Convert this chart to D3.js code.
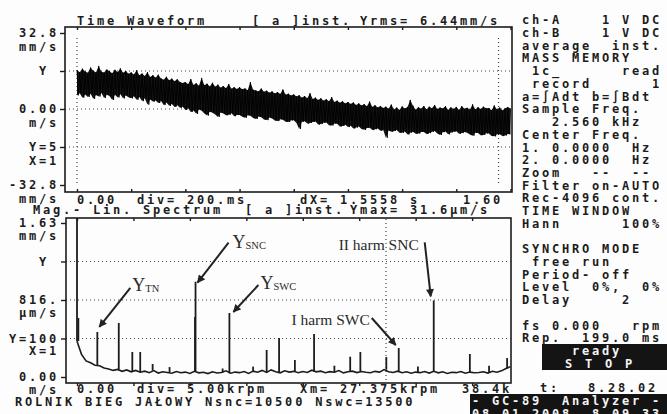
<!DOCTYPE html>
<html>
<head>
<meta charset="utf-8">
<script src="https://cdn.jsdelivr.net/npm/d3@7"></script>
<style>
body { margin: 0; background: #fdfdfd; }
</style>
</head>
<body>
<div id="chart"></div>
<script>
// time waveform, upper / lower envelope in mm/s, one value every 0.01 s (0 .. 1.60 s)
var waveStep = 0.01
var waveHi = [
    16.8, 15.9, 17.4, 16.2, 15.6, 17.9, 16.5, 15.8, 18.6, 16.1, 15.7, 17.0, 16.3, 15.4, 16.9, 15.9, 17.5, 15.6, 16.4, 15.2,
    15.8, 14.9, 16.7, 14.6, 15.3, 14.2, 15.9, 13.8, 14.6, 13.5, 14.8, 13.2, 12.6, 13.9, 12.4, 13.1, 12.0, 12.8, 11.6, 11.2,
    11.6, 10.7, 12.9, 10.4, 11.1, 10.0, 13.4, 10.3, 10.9, 9.7, 11.3, 9.6, 10.5, 9.2, 9.9, 9.0, 10.8, 8.7, 9.4, 8.6,
    9.4, 8.5, 8.9, 8.1, 11.6, 8.3, 8.0, 7.6, 8.8, 7.4, 7.9, 7.0, 7.6, 6.7, 7.3, 6.5, 8.4, 6.2, 6.6, 5.8,
    6.3, 5.4, 5.9, 4.9, 5.6, 4.6, 6.8, 4.3, 4.9, 3.9, 4.6, 3.6, 4.2, 3.3, 5.1, 3.0, 3.6, 2.7, 3.3, 2.4,
    3.0, 2.2, 2.8, 1.7, 2.4, 1.5, 2.1, 1.2, 3.2, 0.9, 1.6, 0.6, 1.3, 0.4, 1.0, 0.1, 1.9, -0.2, 0.6, -0.4,
    1.1, 0.2, 0.9, 3.9, 1.4, -0.3, 0.8, 0.1, 1.3, -0.2, 1.0, 0.3, 1.7, -0.1, 0.6, 0.2, 1.2, -0.4, 0.7, 0.0,
    0.9, -0.4, 1.2, 0.1, 0.5, -0.3, 2.0, -0.2, 0.8, 0.0, 1.0, 0.3, 0.4, -0.5, 1.5, -0.2, 0.6, -0.7, 0.3, 0.8,
    0.2]
var waveLo = [
    5.9, 6.8, 4.9, 6.3, 5.2, 6.6, 4.4, 6.0, 5.4, 6.9, 4.8, 6.2, 5.6, 3.9, 6.1, 5.0, 6.4, 4.6, 5.8, 5.1,
    4.6, 5.5, 4.0, 5.2, 3.4, 4.6, 1.9, 4.1, 3.2, 3.7, 2.6, 3.4, 1.7, 2.8, 1.4, 2.2, 0.9, 1.6, 0.5, 1.0,
    -0.4, 0.3, -1.3, -0.6, -2.1, -0.2, -0.8, -1.9, -2.8, -1.2, -1.6, -2.4, -3.4, -1.5, -1.9, -2.7, -2.5, -1.8, -3.1, -2.6,
    -2.6, -3.3, -3.8, -2.7, -2.9, -3.9, -4.3, -3.2, -3.6, -4.5, -4.8, -3.7, -4.1, -5.0, -5.2, -4.4, -4.6, -5.5, -5.6, -4.9,
    -4.9, -6.0, -8.6, -5.5, -5.3, -6.3, -6.0, -5.6, -5.4, -6.7, -6.5, -5.9, -5.8, -7.0, -7.1, -6.3, -6.4, -7.5, -7.3, -6.8,
    -7.8, -7.2, -8.4, -8.0, -7.6, -8.6, -9.0, -8.2, -8.1, -9.1, -8.7, -8.4, -9.4, -9.0, -12.4, -9.3, -9.8, -9.5, -9.1, -10.2,
    -10.3, -9.7, -11.0, -10.2, -9.8, -10.7, -10.6, -9.9, -9.9, -10.8, -10.4, -9.8, -9.5, -10.6, -11.2, -10.0, -9.7, -10.9, -10.1, -9.8,
    -9.6, -10.7, -10.4, -9.9, -10.2, -11.0, -11.5, -10.3, -10.4, -11.3, -11.2, -10.5, -10.6, -11.6, -11.8, -10.9, -10.9, -11.7, -11.4, -10.8,
    -11.0]

// spectrum noise floor in um/s, one value every 0.4 krpm (0 .. 38.4 krpm)
var floorStep = 0.4
var floorVals = [
    380, 240, 170, 150, 125, 120, 95, 85, 70, 80,
    60, 75, 55, 70, 50, 62, 45, 68, 42, 55,
    48, 40, 58, 45, 52, 38, 60, 44, 50, 36,
    55, 42, 48, 65, 40, 52, 46, 58, 38, 62,
    50, 70, 48, 75, 56, 44, 66, 52, 60, 45,
    58, 48, 72, 55, 62, 46, 57, 50, 68, 44,
    55, 62, 47, 58, 50, 45, 60, 52, 78, 55,
    48, 62, 45, 56, 40, 52, 46, 58, 42, 60,
    44, 55, 38, 50, 46, 58, 40, 52, 45, 48,
    56, 42, 60, 50, 65, 90, 110]

// spectral lines: position in krpm, amplitude in um/s
var peakRpm = [0.0, 0.12, 1.8, 3.7, 4.9, 5.6, 6.7, 10.45, 10.5, 13.5, 16.8, 17.9, 19.3, 21.0, 24.2, 25.1, 27.4, 28.5, 31.6, 34.8, 38.1,
               8.2, 12.9, 15.6, 22.8, 30.2, 36.5]
var peakAmp = [1690, 625, 477, 572, 265, 265, 138, 636, 1010, 678, 286, 413, 180, 456, 215, 265, 212, 307, 811, 244, 201,
               105, 90, 110, 120, 110, 120]

// axis tick values and labels
var topTickVals = [32.8, 16.4, 0, -16.4, -32.8]
var topTickLabels = ["32.8", "Y ", "0.00", "Y=5", "-32.8"]
var topTickUnits = ["mm/s", "", "m/s", "X=1", "mm/s"]
var botTickVals = [1632, 1224, 816, 408, 0]
var botTickLabels = ["1.63", "Y ", "816.", "Y=100", "0.00"]
var botTickUnits = ["mm/s", "", "\u00b5m/s", "X=1", "m/s"]
var timeTicks = [0, 0.2, 0.4, 0.6, 0.8, 1.0, 1.2, 1.4, 1.6]
var rpmTicks = [0, 5, 10, 15, 20, 25, 30, 35]

// annotations on the spectrum
var annoRpm = [1.8, 10.5, 13.5, 31.6, 28.5]
var annoMain = ["Y", "Y", "Y", "II harm SNC", "I harm SWC"]
var annoSub = ["TN", "SNC", "SWC", "", ""]

// instrument status column
var infoLines = [
    "ch-A    1 V DC", "ch-B    1 V DC", "average  inst.", "MASS MEMORY", " 1c_      read",
    " record      1", "a=\u222bAdt b=\u222bBdt", "Sample Freq.", "   2.560 kHz", "Center Freq.",
    "1. 0.0000  Hz", "2. 0.0000  Hz", "Zoom   --  --", "Filter on-AUTO", "Rec-4096 cont.",
    "TIME WINDOW", "Hann      100%", "", "SYNCHRO MODE", " free run",
    "Period- off", "Level  0%,  0%", "Delay     2", "", "fs 0.000   rpm",
    "Rep.  199.0 ms"]

var ink = "#1c1c1c"
var W = 667, H = 414

var xT = d3.scaleLinear().domain([0, 1.6]).range([77, 510.5])
var yT = d3.scaleLinear().domain([-32.8, 32.8]).range([185, 33])
var xF = d3.scaleLinear().domain([0, 38.4]).range([77, 510.5])
var yF = d3.scaleLinear().domain([0, 1632]).range([377, 223])

var svg = d3.select("#chart").append("svg")
    .attr("width", W)
    .attr("height", H)
svg.append("rect").attr("width", W).attr("height", H).attr("fill", "#fdfdfd")

var defs = svg.append("defs")
defs.append("clipPath").attr("id", "clipTop")
    .append("rect").attr("x", 65).attr("y", 27).attr("width", 447).attr("height", 165)
defs.append("clipPath").attr("id", "clipBot")
    .append("rect").attr("x", 66).attr("y", 218).attr("width", 445).attr("height", 165)
defs.append("marker")
    .attr("id", "arrow")
    .attr("viewBox", "0 0 10 10")
    .attr("refX", 9).attr("refY", 5)
    .attr("markerWidth", 4.5).attr("markerHeight", 4)
    .attr("orient", "auto")
    .append("path").attr("d", "M0,0L10,5L0,10z").attr("fill", "#222")

var lcd = (g, str, x, y, anchor, color) => g.append("text")
    .attr("x", x)
    .attr("y", y + 4.3)
    .attr("text-anchor", anchor || "start")
    .attr("xml:space", "preserve")
    .style("white-space", "pre")
    .style("font-family", '"DejaVu Sans Mono", monospace')
    .style("font-size", "12px")
    .style("font-weight", "bold")
    .style("letter-spacing", "2.78px")
    .style("fill", color || ink)
    .text(str)

var dotted = (g, x1, y1, x2, y2) => g.append("line")
    .attr("x1", x1).attr("y1", y1).attr("x2", x2).attr("y2", y2)
    .attr("stroke", "#444")
    .attr("stroke-width", 1.2)
    .attr("stroke-dasharray", "1,3")

/* ---------- time waveform panel ---------- */
var upper = svg.append("g").attr("class", "upper")

topTickVals.slice(1, 4).forEach(v => dotted(upper, 65, yT(v), 512, yT(v)))
dotted(upper, xT(0), 38, xT(0), 183)
dotted(upper, xT(1.5558), 38, xT(1.5558), 183)

var wave = upper.append("g").attr("clip-path", "url(#clipTop)")
var band = d3.area()
    .x((d, i) => xT(i * waveStep))
    .y0((d, i) => yT(waveLo[i]))
    .y1((d, i) => yT(waveHi[i]))
wave.append("path")
    .attr("d", band(waveHi))
    .attr("fill", "#141414")

var zig = []
waveHi.forEach((v, i) => {
    zig.push([i * waveStep, v])
    if (i < waveHi.length - 1) zig.push([i * waveStep + waveStep / 2, waveLo[i]])
})
wave.append("path")
    .attr("d", d3.line().x(d => xT(d[0])).y(d => yT(d[1]))(zig))
    .attr("fill", "none")
    .attr("stroke", "#000")
    .attr("stroke-width", 0.9)

upper.append("rect")
    .attr("x", 65).attr("y", 27).attr("width", 447).attr("height", 165)
    .attr("fill", "none").attr("stroke", ink).attr("stroke-width", 1.6)

upper.append("g")
    .attr("transform", "translate(0,27)")
    .call(d3.axisTop(xT).tickValues(timeTicks).tickSize(-3).tickFormat(""))
    .call(g => g.select(".domain").remove())
upper.append("g")
    .attr("transform", "translate(0,192)")
    .call(d3.axisBottom(xT).tickValues(timeTicks).tickSize(-3).tickFormat(""))
    .call(g => g.select(".domain").remove())
upper.append("g")
    .attr("transform", "translate(65,0)")
    .call(d3.axisLeft(yT).tickValues(topTickVals).tickSize(5).tickFormat(""))
    .call(g => g.select(".domain").remove())
upper.selectAll(".tick line").attr("stroke", ink).attr("stroke-width", 1.4)

topTickVals.forEach((v, i) => {
    lcd(upper, topTickLabels[i], 59, yT(v), "end")
    if (topTickUnits[i]) lcd(upper, topTickUnits[i], 59, yT(v) + 13.8, "end")
})
lcd(upper, "Time Waveform", 77, 20.5)
lcd(upper, "[ a ]inst.", 252, 20.5)
lcd(upper, "Yrms= 6.44mm/s", 360, 20.5)
lcd(upper, "0.00", xT(0), 199.5)
lcd(upper, "div= 200.ms", 137, 199.5)
lcd(upper, "dX= 1.5558 s", 300, 199.5)
lcd(upper, "1.60", 463, 199.5)

/* ---------- spectrum panel ---------- */
var lower = svg.append("g").attr("class", "lower")

botTickVals.slice(1, 4).forEach(v => dotted(lower, 66, yF(v), 511, yF(v)))
dotted(lower, xF(27.375), 219, xF(27.375), 382)

var spec = lower.append("g").attr("clip-path", "url(#clipBot)")
spec.append("path")
    .attr("d", d3.line().x((d, i) => xF(i * floorStep)).y(d => yF(d))(floorVals))
    .attr("fill", "none")
    .attr("stroke", ink)
    .attr("stroke-width", 1.6)
spec.selectAll(".peak")
    .data(peakRpm).enter()
    .append("line")
    .attr("class", "peak")
    .attr("x1", d => xF(d)).attr("x2", d => xF(d))
    .attr("y1", d => yF(floorVals[Math.round(d / floorStep)]))
    .attr("y2", (d, i) => yF(peakAmp[i]))
    .attr("stroke", ink)
    .attr("stroke-width", 1.8)

lower.append("rect")
    .attr("x", 66).attr("y", 218).attr("width", 445).attr("height", 165)
    .attr("fill", "none").attr("stroke", ink).attr("stroke-width", 1.6)

lower.append("g")
    .attr("transform", "translate(0,218)")
    .call(d3.axisTop(xF).tickValues(rpmTicks).tickSize(-3).tickFormat(""))
    .call(g => g.select(".domain").remove())
lower.append("g")
    .attr("transform", "translate(0,383)")
    .call(d3.axisBottom(xF).tickValues(rpmTicks).tickSize(3).tickFormat(""))
    .call(g => g.select(".domain").remove())
lower.append("g")
    .attr("transform", "translate(66,0)")
    .call(d3.axisLeft(yF).tickValues(botTickVals).tickSize(5).tickFormat(""))
    .call(g => g.select(".domain").remove())
lower.selectAll(".tick line").attr("stroke", ink).attr("stroke-width", 1.4)

botTickVals.forEach((v, i) => {
    lcd(lower, botTickLabels[i], 59, yF(v), "end")
    if (botTickUnits[i]) lcd(lower, botTickUnits[i], 59, yF(v) + 12.5, "end")
})
lcd(lower, "Mag.- Lin. Spectrum", 33, 210)
lcd(lower, "[ a ]inst.", 245, 210)
lcd(lower, "Ymax= 31.6\u00b5m/s", 350, 210)
lcd(lower, "0.00", xF(0), 389)
lcd(lower, "div= 5.00krpm", 137, 389)
lcd(lower, "Xm= 27.375krpm", 300, 389)
lcd(lower, "38.4k", 462, 389)
lcd(svg, "ROLNIK BIEG JA\u0141OWY Nsnc=10500 Nswc=13500", 15, 402)

// arrows and labels, offsets in px from the top of the marked line
var annoLayout = [
    {tip: [2, -5], tail: [33, -44], txt: [35, -41], anchor: "start"},
    {tip: [2, 1], tail: [33, -39], txt: [37, -34], anchor: "start"},
    {tip: [4, -1], tail: [29, -28], txt: [31, -24], anchor: "start"},
    {tip: [-3, -4], tail: [-9, -58], txt: [-15, -50], anchor: "end"},
    {tip: [-3, -3], tail: [-27, -30], txt: [-29, -23], anchor: "end"}
]
var anno = lower.append("g").attr("class", "anno")
annoRpm.forEach((r, i) => {
    var k = peakRpm.indexOf(r)
    var px = xF(r), py = yF(peakAmp[k])
    var L = annoLayout[i]
    anno.append("line")
        .attr("x1", px + L.tail[0]).attr("y1", py + L.tail[1])
        .attr("x2", px + L.tip[0]).attr("y2", py + L.tip[1])
        .attr("stroke", "#222")
        .attr("stroke-width", 2)
        .attr("marker-end", "url(#arrow)")
    var t = anno.append("text")
        .attr("x", px + L.txt[0]).attr("y", py + L.txt[1])
        .attr("text-anchor", L.anchor)
        .style("font-family", '"Liberation Serif", serif')
        .style("font-size", annoSub[i] ? "18px" : "15.5px")
        .style("fill", "#2a2a2a")
    t.append("tspan").text(annoMain[i])
    if (annoSub[i]) t.append("tspan").attr("dy", 1).style("font-size", "10.5px").text(annoSub[i])
})

/* ---------- status column ---------- */
var info = svg.append("g").attr("class", "info")
infoLines.forEach((s, i) => lcd(info, s, 522, 20 + 12.72 * i))

info.append("rect").attr("x", 542).attr("y", 344).attr("width", 125).attr("height", 26).attr("fill", "#141414")
lcd(info, "ready", 597, 351, "middle", "#f4f4f4")
lcd(info, "S T O P", 600, 363.5, "middle", "#f4f4f4")
lcd(info, "t:", 540, 388)
lcd(info, "8.28.02", 588, 388)
info.append("rect").attr("x", 470).attr("y", 394).attr("width", 197).attr("height", 20).attr("fill", "#141414")
lcd(info, "- GC-89  Analyzer -", 472, 400.5, "start", "#f4f4f4")
lcd(info, "08.01.2008  8.09.33", 472, 414, "start", "#f4f4f4")
</script>
</body>
</html>
